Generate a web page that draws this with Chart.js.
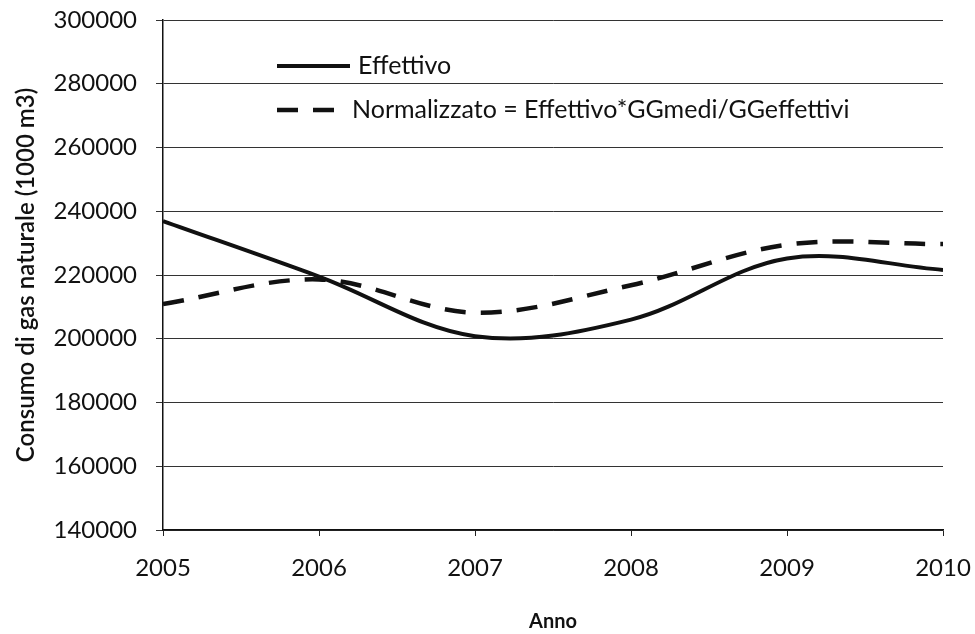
<!DOCTYPE html>
<html lang="it">
  <head>
    <meta charset="UTF-8" />
    <title>Consumo di gas naturale</title>
    <script src="https://cdn.jsdelivr.net/npm/chart.js"></script>
    <style>
      html, body { margin: 0; padding: 0; background: #fff; }
      #wrap { position: relative; width: 975px; height: 634px; }
    </style>
  </head>
  <body>
    <div id="wrap"><canvas id="gasChart" width="975" height="634"></canvas></div>
    <script>
      // dati
      const anni = [2005, 2006, 2007, 2008, 2009, 2010];
      const effettivo = [236900, 219500, 200800, 206000, 225200, 221600];
      const normalizzato = [210900, 218600, 208200, 216800, 229500, 229700];
      const yTicks = [140000, 160000, 180000, 200000, 220000, 240000, 260000, 280000, 300000];

      const FONT = "Lato, 'Open Sans', sans-serif";

      // legenda disegnata dentro l'area del grafico
      const legendInside = {
        id: "legendInside",
        afterDraw(chart) {
          const { ctx, chartArea } = chart;
          const x0 = chartArea.left + 114;
          const rows = [
            { y: chartArea.top + 46, ds: chart.data.datasets[0], len: 73, textX: 81 },
            { y: chartArea.top + 90, ds: chart.data.datasets[1], len: 57, textX: 75 },
          ];
          ctx.save();
          ctx.font = "25px " + FONT;
          ctx.fillStyle = "#111";
          ctx.textBaseline = "middle";
          rows.forEach((r) => {
            ctx.beginPath();
            ctx.lineWidth = r.ds.borderWidth;
            ctx.strokeStyle = r.ds.borderColor;
            ctx.setLineDash(r.ds.borderDash || []);
            ctx.moveTo(x0, r.y);
            ctx.lineTo(x0 + r.len, r.y);
            ctx.stroke();
            ctx.setLineDash([]);
            ctx.fillText(r.ds.label, x0 + r.textX, r.y);
          });
          ctx.restore();
        },
      };

      new Chart(document.getElementById("gasChart"), {
        type: "line",
        data: {
          datasets: [
            {
              label: "Effettivo",
              data: anni.map((a, i) => ({ x: a, y: effettivo[i] })),
              borderColor: "#111",
              borderWidth: 4,
              tension: 0.35,
              pointRadius: 0,
              fill: false,
            },
            {
              label: "Normalizzato = Effettivo*GGmedi/GGeffettivi",
              data: anni.map((a, i) => ({ x: a, y: normalizzato[i] })),
              borderColor: "#111",
              borderWidth: 4.5,
              borderDash: [21, 15],
              tension: 0.35,
              pointRadius: 0,
              fill: false,
            },
          ],
        },
        options: {
          responsive: false,
          animation: false,
          layout: { padding: 0 },
          plugins: { legend: { display: false }, tooltip: { enabled: false } },
          scales: {
            x: {
              type: "linear",
              min: anni[0],
              max: anni[anni.length - 1],
              afterBuildTicks: (s) => { s.ticks = anni.map((v) => ({ value: v })); },
              afterFit: (s) => { s.height = 104; s.paddingRight = 32; s.paddingLeft = 0; },
              ticks: {
                color: "#111",
                font: { family: FONT, size: 24 },
                padding: 18,
                maxRotation: 0,
                callback: (v) => String(v),
              },
              grid: { drawOnChartArea: false, drawTicks: true, tickLength: 6, color: "#222" },
              border: { color: "#111", width: 1.5 },
              title: {
                display: true,
                text: "Anno",
                color: "#111",
                font: { family: FONT, size: 20, weight: "bold" },
                padding: { top: 0, bottom: 0 },
              },
            },
            y: {
              min: yTicks[0],
              max: yTicks[yTicks.length - 1],
              afterBuildTicks: (s) => { s.ticks = yTicks.map((v) => ({ value: v })); },
              afterFit: (s) => { s.width = 163; s.paddingTop = 20; s.paddingBottom = 0; },
              ticks: {
                color: "#111",
                font: { family: FONT, size: 24 },
                padding: 19,
                callback: (v) => String(v),
              },
              grid: { color: "#333", lineWidth: 1, tickLength: 7 },
              border: { color: "#111", width: 1.5 },
              title: {
                display: true,
                text: "Consumo di gas naturale (1000 m3)",
                color: "#111",
                font: { family: FONT, size: 24, weight: "600" },
                padding: { top: 12, bottom: 0 },
              },
            },
          },
        },
        plugins: [legendInside],
      });
    </script>
  </body>
</html>
